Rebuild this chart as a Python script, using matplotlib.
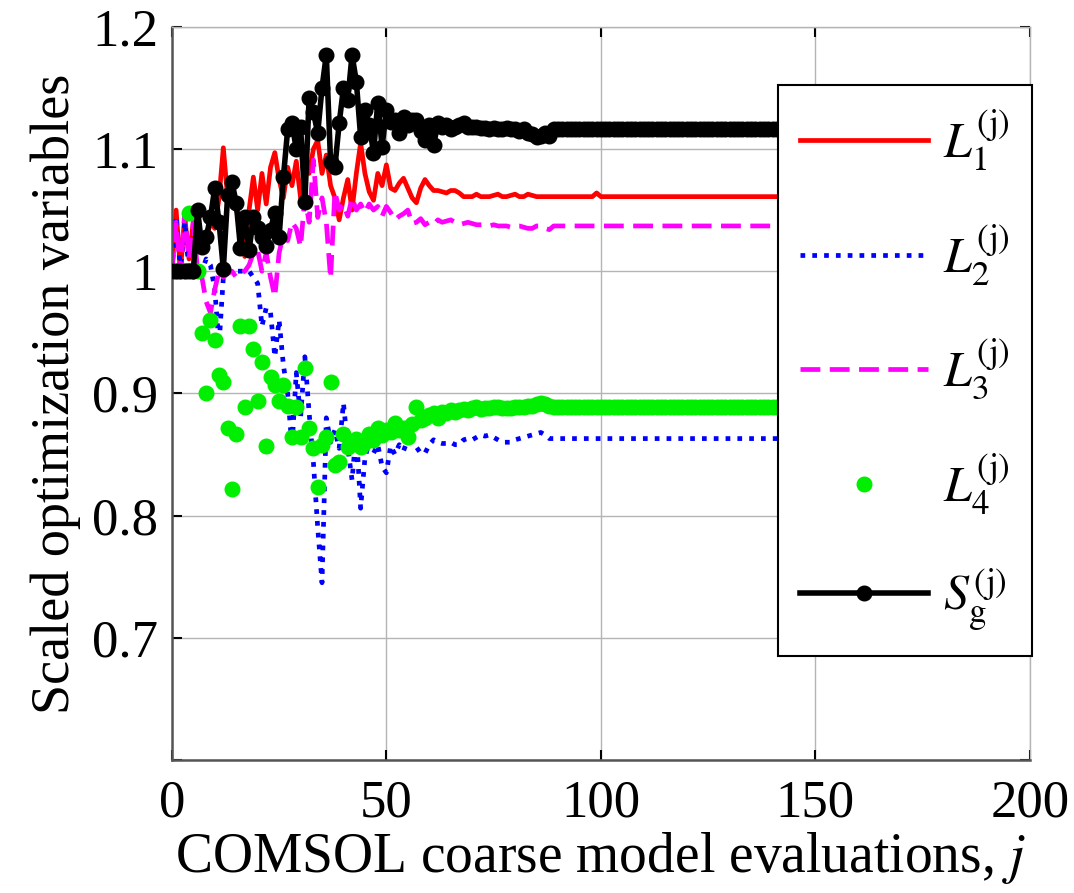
import numpy as np
import matplotlib
matplotlib.use("Agg")
import matplotlib.pyplot as plt

plt.rcParams['font.family'] = ['Liberation Serif', 'DejaVu Serif']
plt.rcParams['mathtext.fontset'] = 'stix'

# iterations 0..88 read point by point, after that the values stay put
L1_head = [1.000, 1.050, 1.000, 1.045, 1.010, 1.040, 1.020, 1.030, 1.025, 1.040,
           1.035, 1.060, 1.101, 1.060, 1.055, 1.050, 1.040, 1.012, 1.050, 1.077,
           1.050, 1.080, 1.055, 1.085, 1.097, 1.075, 1.060, 1.085, 1.070, 1.090,
           1.060, 1.085, 1.080, 1.100, 1.107, 1.080, 1.095, 1.070, 1.060, 1.042,
           1.060, 1.075, 1.050, 1.080, 1.105, 1.080, 1.065, 1.058, 1.080, 1.070,
           1.087, 1.068, 1.066, 1.072, 1.076, 1.068, 1.060, 1.056, 1.068, 1.075,
           1.070, 1.066, 1.066, 1.065, 1.064, 1.066, 1.066, 1.064, 1.061, 1.061,
           1.061, 1.063, 1.061, 1.061, 1.061, 1.062, 1.063, 1.061, 1.061, 1.062,
           1.063, 1.061, 1.061, 1.063, 1.062, 1.061, 1.061, 1.061, 1.061]
L1_tail = 1.061

L2_head = [1.000, 1.045, 1.000, 1.040, 1.000, 0.995, 1.000, 1.000, 1.010, 1.005,
           0.985, 0.940, 0.995, 1.000, 1.000, 1.000, 1.000, 1.000, 1.000, 0.995,
           0.990, 0.955, 0.970, 0.966, 0.930, 0.960, 0.923, 0.900, 0.856, 0.917,
           0.880, 0.930, 0.884, 0.843, 0.790, 0.745, 0.880, 0.860, 0.870, 0.855,
           0.892, 0.856, 0.829, 0.870, 0.806, 0.847, 0.860, 0.851, 0.858, 0.840,
           0.835, 0.857, 0.850, 0.858, 0.853, 0.862, 0.858, 0.856, 0.851, 0.851,
           0.858, 0.862, 0.860, 0.859, 0.859, 0.860, 0.858, 0.858, 0.862, 0.863,
           0.862, 0.864, 0.866, 0.865, 0.866, 0.864, 0.862, 0.860, 0.860, 0.860,
           0.862, 0.863, 0.864, 0.865, 0.866, 0.867, 0.868, 0.866, 0.863]
L2_tail = 0.863

L3_head = [1.000, 1.040, 1.000, 1.048, 1.010, 1.040, 1.000, 0.995, 0.975, 0.966,
           0.985, 1.000, 0.995, 0.998, 1.000, 0.995, 0.998, 1.000, 1.005, 1.015,
           1.017, 1.000, 1.015, 0.995, 0.979, 1.015, 1.030, 1.025, 1.040, 1.035,
           1.020, 1.060, 1.040, 1.091, 1.044, 1.060, 1.040, 0.994, 1.065, 1.050,
           1.055, 1.045, 1.060, 1.050, 1.055, 1.048, 1.055, 1.050, 1.053, 1.045,
           1.053, 1.048, 1.042, 1.045, 1.047, 1.050, 1.039, 1.040, 1.043, 1.038,
           1.040, 1.038, 1.042, 1.040, 1.041, 1.042, 1.040, 1.038, 1.039, 1.040,
           1.039, 1.038, 1.038, 1.038, 1.037, 1.038, 1.037, 1.037, 1.037, 1.036,
           1.037, 1.037, 1.036, 1.035, 1.035, 1.037, 1.037, 1.035, 1.034]
L3_tail = 1.037

L4_head = [1.000, 1.000, 1.000, 1.000, 1.048, 1.000, 1.000, 0.949, 0.900, 0.960,
           0.944, 0.915, 0.909, 0.872, 0.822, 0.867, 0.955, 0.889, 0.955, 0.936,
           0.894, 0.926, 0.857, 0.913, 0.907, 0.894, 0.907, 0.890, 0.864, 0.889,
           0.864, 0.921, 0.872, 0.855, 0.823, 0.858, 0.864, 0.909, 0.841, 0.844,
           0.867, 0.856, 0.860, 0.863, 0.856, 0.860, 0.867, 0.862, 0.872, 0.866,
           0.870, 0.868, 0.876, 0.870, 0.872, 0.864, 0.875, 0.889, 0.878, 0.880,
           0.882, 0.884, 0.880, 0.885, 0.884, 0.886, 0.885, 0.886, 0.887, 0.886,
           0.888, 0.889, 0.887, 0.888, 0.888, 0.889, 0.889, 0.888, 0.888, 0.888,
           0.889, 0.889, 0.889, 0.890, 0.890, 0.891, 0.892, 0.891, 0.890]
L4_tail = 0.889

Sg_head = [1.000, 1.000, 1.000, 1.000, 1.000, 1.000, 1.050, 1.020, 1.028, 1.044,
           1.068, 1.040, 1.002, 1.062, 1.073, 1.056, 1.019, 1.044, 1.017, 1.044,
           1.035, 1.028, 1.021, 1.034, 1.048, 1.028, 1.077, 1.116, 1.121, 1.100,
           1.118, 1.057, 1.142, 1.130, 1.113, 1.150, 1.177, 1.089, 1.085, 1.121,
           1.150, 1.140, 1.177, 1.155, 1.110, 1.132, 1.120, 1.097, 1.138, 1.102,
           1.132, 1.122, 1.124, 1.113, 1.126, 1.120, 1.124, 1.124, 1.115, 1.107,
           1.120, 1.103, 1.121, 1.118, 1.120, 1.116, 1.118, 1.120, 1.121, 1.118,
           1.118, 1.118, 1.117, 1.117, 1.116, 1.117, 1.116, 1.116, 1.117, 1.116,
           1.116, 1.115, 1.116, 1.113, 1.112, 1.110, 1.111, 1.113, 1.111]
Sg_tail = 1.116

n_eval = 160
xticks = [0, 50, 100, 150, 200]
yticks = [0.6, 0.7, 0.8, 0.9, 1.0, 1.1, 1.2]
ytick_labels = ['', '0.7', '0.8', '0.9', '1', '1.1', '1.2']


def full(head, tail):
    return np.array(head + [tail] * (n_eval - len(head)))


j = np.arange(n_eval)
L1 = full(L1_head, L1_tail)
L1[99] = 1.064  # small blip on the settled curve
L2 = full(L2_head, L2_tail)
L3 = full(L3_head, L3_tail)
L4 = full(L4_head, L4_tail)
Sg = full(Sg_head, Sg_tail)

fig = plt.figure(figsize=(10.74, 8.93), dpi=100)
ax = fig.add_axes([0.160, 0.149, 0.799, 0.821])

ax.plot(j, L1, '-', color='#ff0000', lw=3.4, label=r'$L_1^{(\mathrm{j})}$')
ax.plot(j, L2, ':', color='#0000ff', lw=3.4, label=r'$L_2^{(\mathrm{j})}$',
        dashes=(1.0, 1.5))
ax.plot(j, L3, '--', color='#ff00ff', lw=3.4, label=r'$L_3^{(\mathrm{j})}$',
        dashes=(4.2, 2.0))
ax.plot(j, L4, 'o', color='#00ee00', ms=10.5, mec='#00ee00',
        label=r'$L_4^{(\mathrm{j})}$', zorder=3)
ax.plot(j, Sg, '-o', color='black', lw=4.0, ms=10.5,
        label=r'$S_\mathrm{g}^{(\mathrm{j})}$', zorder=4)

ax.set_xlim(0, 200)
ax.set_ylim(0.6, 1.2)
ax.set_xticks(xticks)
ax.set_yticks(yticks)
ax.set_yticklabels(ytick_labels)
ax.grid(True, color='#b4b4b4', lw=1.0)
ax.tick_params(direction='in', length=7, width=1.5, labelsize=38,
               top=True, right=True)
ax.tick_params(axis='x', pad=14)
ax.tick_params(axis='y', pad=10)

for side in ['left', 'bottom']:
    ax.spines[side].set_color('#555555')
    ax.spines[side].set_linewidth(1.8)
for side in ['top', 'right']:
    ax.spines[side].set_color('#b4b4b4')
    ax.spines[side].set_linewidth(1.0)

ax.set_xlabel(r'COMSOL coarse model evaluations, $j$', fontsize=40, labelpad=2)
ax.set_ylabel('Scaled optimization variables', fontsize=39, labelpad=8)

leg = ax.legend(loc='upper left', bbox_to_anchor=(0.706, 0.921), fontsize=36,
                frameon=True, fancybox=False, edgecolor='black',
                handlelength=2.55, handletextpad=0.3, labelspacing=0.98,
                borderpad=0.45, borderaxespad=0.0, framealpha=1.0)
leg.get_frame().set_linewidth(1.5)

fig.savefig('out.png', dpi=100)
